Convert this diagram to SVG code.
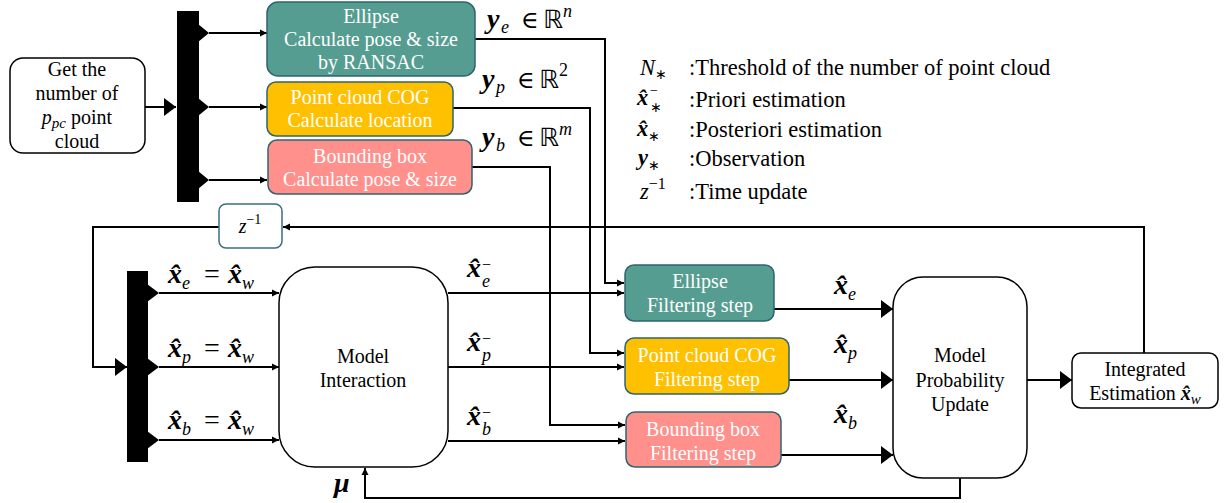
<svg xmlns="http://www.w3.org/2000/svg" width="1224" height="503" viewBox="0 0 1224 503" font-family="'Liberation Serif', 'Times New Roman', serif">
<style>
.t{font-family:'Liberation Serif','Times New Roman',serif;font-size:20px;text-anchor:middle;fill:#000}
.w{fill:#fff}
.lg{font-family:'Liberation Serif','Times New Roman',serif;font-size:22.5px;fill:#000}
.m{font-family:'Liberation Serif','DejaVu Serif',serif;font-size:28px;fill:#000}
.bi{font-weight:bold;font-style:italic}
.it{font-style:italic}
.sub{font-size:18px;font-style:italic;font-weight:normal}
.sup{font-size:16px}
.s14{font-size:14px}
.rr{font-family:'DejaVu Sans',sans-serif;font-size:25px}
.el{font-size:24px}
.wb{fill:#fff;stroke:#000;stroke-width:1.5}
.teal{fill:#559D90;stroke:#2E6470;stroke-width:1.5}
.yel{fill:#FFC000;stroke:#2E6470;stroke-width:1.5}
.pink{fill:#FF908C;stroke:#2E6470;stroke-width:1.5}
.ln{fill:none;stroke:#000;stroke-width:2}
.bar{fill:#000}
</style>
<defs>
<marker id="sa" markerUnits="userSpaceOnUse" markerWidth="8" markerHeight="8" refX="7" refY="4" orient="auto"><path d="M0,0.5 L7,4 L0,7.5 z" fill="#000"/></marker>
<marker id="ba" markerUnits="userSpaceOnUse" markerWidth="13" markerHeight="18" refX="12" refY="9" orient="auto"><path d="M0,0 L12,9 L0,18 z" fill="#000"/></marker>
</defs>

<g id="connectors">
<path class="ln" d="M145,107 H176" marker-end="url(#ba)"/>
<path class="ln" d="M209,33 H267" marker-end="url(#sa)"/>
<path class="ln" d="M209,107 H267" marker-end="url(#sa)"/>
<path class="ln" d="M209,180 H267" marker-end="url(#sa)"/>
<path class="ln" d="M475,39 H605 V283 H624" marker-end="url(#sa)"/>
<path class="ln" d="M453,108 H590 V353 H624" marker-end="url(#sa)"/>
<path class="ln" d="M472,167 H550 V425 H625" marker-end="url(#sa)"/>
<path class="ln" d="M448,293 H624" marker-end="url(#sa)"/>
<path class="ln" d="M448,367 H624" marker-end="url(#sa)"/>
<path class="ln" d="M448,441 H625" marker-end="url(#sa)"/>
<path class="ln" d="M774,309 H893" marker-end="url(#ba)"/>
<path class="ln" d="M789,380 H893" marker-end="url(#ba)"/>
<path class="ln" d="M781,455 H893" marker-end="url(#ba)"/>
<path class="ln" d="M1027,380 H1072" marker-end="url(#ba)"/>
<path class="ln" d="M1144,353 V227 H283" marker-end="url(#sa)"/>
<path class="ln" d="M219,227 H93 V367 H127" marker-end="url(#ba)"/>
<path class="ln" d="M159,293 H279" marker-end="url(#sa)"/>
<path class="ln" d="M159,367 H279" marker-end="url(#sa)"/>
<path class="ln" d="M159,440 H279" marker-end="url(#sa)"/>
<path class="ln" d="M960,478 V498 H365 V468" marker-end="url(#sa)"/>
</g>

<g id="bar1">
<rect class="bar" x="177" y="11" width="22" height="191"/>
<polygon class="bar" points="198,24 209,33 198,42"/>
<polygon class="bar" points="198,98 209,107 198,116"/>
<polygon class="bar" points="198,171 209,180 198,189"/>
</g>
<g id="bar2">
<rect class="bar" x="127" y="271" width="21" height="191"/>
<polygon class="bar" points="147,284 159,293 147,302"/>
<polygon class="bar" points="147,358 159,367 147,376"/>
<polygon class="bar" points="147,431 159,440 147,449"/>
</g>

<g id="get-number">
<rect class="wb" x="10" y="58" width="135" height="95" rx="13"/>
<text class="t" x="77" y="76">Get the</text>
<text class="t" x="77" y="100">number of</text>
<text class="t" x="77" y="124"><tspan class="it">p</tspan><tspan class="it" style="font-size:15px" dy="4">pc</tspan><tspan dy="-4"> point</tspan></text>
<text class="t" x="77" y="148">cloud</text>
</g>

<g id="ellipse-calc">
<rect class="teal" x="267" y="2" width="208" height="74" rx="11"/>
<text class="t w" x="371" y="23">Ellipse</text>
<text class="t w" x="371" y="46">Calculate pose &amp; size</text>
<text class="t w" x="371" y="69">by RANSAC</text>
</g>
<g id="cog-calc">
<rect class="yel" x="267" y="82" width="186" height="54" rx="9"/>
<text class="t w" x="360" y="104">Point cloud COG</text>
<text class="t w" x="360" y="127">Calculate location</text>
</g>
<g id="bbox-calc">
<rect class="pink" x="268" y="140" width="204" height="54" rx="9"/>
<text class="t w" x="370" y="163">Bounding box</text>
<text class="t w" x="370" y="186">Calculate pose &amp; size</text>
</g>

<g id="obs-labels">
<text class="m"><tspan class="bi" x="487" y="28">y</tspan><tspan class="sub" x="501" y="33">e</tspan><tspan class="el" x="521" y="28">∈</tspan><tspan class="rr" x="543" y="28">ℝ</tspan><tspan class="sub" x="563" y="17">n</tspan></text>
<text class="m"><tspan class="bi" x="482" y="88">y</tspan><tspan class="sub" x="496" y="93">p</tspan><tspan class="el" x="517" y="88">∈</tspan><tspan class="rr" x="539" y="88">ℝ</tspan><tspan class="sup" style="font-size:18px" x="559" y="76">2</tspan></text>
<text class="m"><tspan class="bi" x="482" y="146">y</tspan><tspan class="sub" x="496" y="151">b</tspan><tspan class="el" x="517" y="146">∈</tspan><tspan class="rr" x="539" y="146">ℝ</tspan><tspan class="sub" x="559" y="135">m</tspan></text>
</g>

<g id="legend">
<text class="lg" x="640" y="75"><tspan class="it">N</tspan><tspan class="s14" dy="4">∗</tspan></text>
<text class="lg" x="689" y="75">:Threshold of the number of point cloud</text>
<text class="lg bi" x="637" y="105">x̂</text>
<text class="lg s14" x="650" y="95">−</text>
<text class="lg s14" x="650" y="112">∗</text>
<text class="lg" x="689" y="107">:Priori estimation</text>
<text class="lg" x="637" y="136"><tspan class="bi">x̂</tspan><tspan class="s14" dy="5">∗</tspan></text>
<text class="lg" x="689" y="137">:Posteriori estimation</text>
<text class="lg" x="638" y="165"><tspan class="bi">y</tspan><tspan class="s14" dy="5">∗</tspan></text>
<text class="lg" x="689" y="166">:Observation</text>
<text class="lg" x="640" y="199"><tspan class="it">z</tspan><tspan style="font-size:16px" dy="-10">−1</tspan></text>
<text class="lg" x="689" y="199">:Time update</text>
</g>

<g id="z-delay">
<rect x="219" y="204" width="63" height="44" rx="7" fill="#fff" stroke="#3A6E80" stroke-width="1.5"/>
<text class="t" x="250" y="233"><tspan class="it">z</tspan><tspan class="s14" dy="-9">−1</tspan></text>
</g>

<g id="state-labels">
<text class="m"><tspan class="bi" x="168" y="283">x̂</tspan><tspan class="sub" x="182" y="289">e</tspan><tspan x="204" y="283">=</tspan><tspan class="bi" x="228" y="283">x̂</tspan><tspan class="sub" x="242" y="289">w</tspan></text>
<text class="m"><tspan class="bi" x="168" y="357">x̂</tspan><tspan class="sub" x="182" y="363">p</tspan><tspan x="204" y="357">=</tspan><tspan class="bi" x="228" y="357">x̂</tspan><tspan class="sub" x="242" y="363">w</tspan></text>
<text class="m"><tspan class="bi" x="168" y="429">x̂</tspan><tspan class="sub" x="182" y="435">b</tspan><tspan x="204" y="429">=</tspan><tspan class="bi" x="228" y="429">x̂</tspan><tspan class="sub" x="242" y="435">w</tspan></text>
<text class="m bi" x="334" y="492">μ</text>
</g>

<g id="model-interaction">
<rect class="wb" x="279" y="267" width="169" height="200" rx="36"/>
<text class="t" x="363" y="363">Model</text>
<text class="t" x="363" y="387">Interaction</text>
</g>

<g id="prior-labels">
<text class="m bi" x="467" y="277">x̂</text>
<text class="m sup" x="482" y="270">−</text>
<text class="m sub" x="482" y="287">e</text>
<text class="m bi" x="467" y="351">x̂</text>
<text class="m sup" x="482" y="344">−</text>
<text class="m sub" x="482" y="361">p</text>
<text class="m bi" x="467" y="425">x̂</text>
<text class="m sup" x="482" y="418">−</text>
<text class="m sub" x="482" y="435">b</text>
</g>

<g id="ellipse-filter">
<rect class="teal" x="625" y="265" width="149" height="56" rx="9"/>
<text class="t w" x="700" y="288">Ellipse</text>
<text class="t w" x="700" y="312">Filtering step</text>
</g>
<g id="cog-filter">
<rect class="yel" x="625" y="338" width="164" height="56" rx="9"/>
<text class="t w" x="707" y="362">Point cloud COG</text>
<text class="t w" x="707" y="386">Filtering step</text>
</g>
<g id="bbox-filter">
<rect class="pink" x="626" y="412" width="155" height="55" rx="9"/>
<text class="t w" x="703" y="436">Bounding box</text>
<text class="t w" x="703" y="460">Filtering step</text>
</g>

<g id="post-labels">
<text class="m"><tspan class="bi" x="834" y="294">x̂</tspan><tspan class="sub" x="848" y="300">e</tspan></text>
<text class="m"><tspan class="bi" x="834" y="353">x̂</tspan><tspan class="sub" x="848" y="359">p</tspan></text>
<text class="m"><tspan class="bi" x="834" y="423">x̂</tspan><tspan class="sub" x="848" y="429">b</tspan></text>
</g>

<g id="model-prob-update">
<rect class="wb" x="893" y="277" width="134" height="201" rx="30"/>
<text class="t" x="960" y="362">Model</text>
<text class="t" x="960" y="387">Probability</text>
<text class="t" x="960" y="411">Update</text>
</g>

<g id="integrated">
<rect class="wb" x="1072" y="353" width="146" height="55" rx="9"/>
<text class="t" x="1145" y="376">Integrated</text>
<text class="t" x="1145" y="400">Estimation <tspan class="bi">x̂</tspan><tspan class="it" style="font-size:15px" dy="4">w</tspan></text>
</g>
</svg>
